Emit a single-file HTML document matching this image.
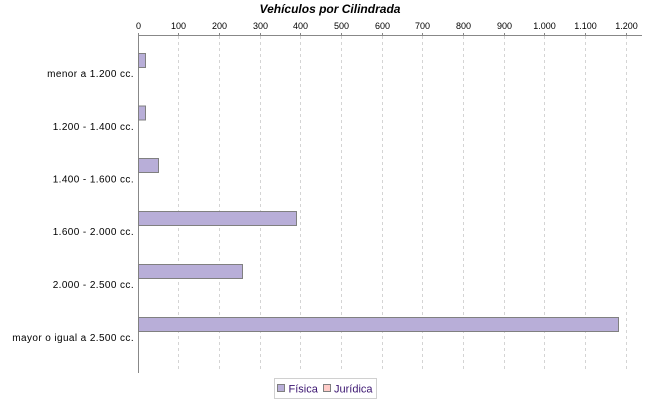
<!DOCTYPE html>
<html>
<head>
<meta charset="utf-8">
<style>
html,body{margin:0;padding:0;background:#fff;}
svg{display:block;}
text{font-family:"Liberation Sans",sans-serif;}
</style>
</head>
<body>
<svg width="650" height="400" viewBox="0 0 650 400" xmlns="http://www.w3.org/2000/svg">
<rect x="0" y="0" width="650" height="400" fill="#fff"/>
<!-- title -->
<text x="330" y="13" text-anchor="middle" font-size="12" font-weight="bold" font-style="italic" fill="#000">Vehículos por Cilindrada</text>
<!-- gridlines -->
<g stroke="#d4d4d4" stroke-width="1" stroke-dasharray="3,3">
<line x1="178.5" y1="36" x2="178.5" y2="372"/>
<line x1="219.5" y1="36" x2="219.5" y2="372"/>
<line x1="260.5" y1="36" x2="260.5" y2="372"/>
<line x1="300.5" y1="36" x2="300.5" y2="372"/>
<line x1="341.5" y1="36" x2="341.5" y2="372"/>
<line x1="382.5" y1="36" x2="382.5" y2="372"/>
<line x1="422.5" y1="36" x2="422.5" y2="372"/>
<line x1="463.5" y1="36" x2="463.5" y2="372"/>
<line x1="504.5" y1="36" x2="504.5" y2="372"/>
<line x1="544.5" y1="36" x2="544.5" y2="372"/>
<line x1="585.5" y1="36" x2="585.5" y2="372"/>
<line x1="626.5" y1="36" x2="626.5" y2="372"/>
</g>
<!-- axes -->
<line x1="138" y1="35.5" x2="642" y2="35.5" stroke="#888" stroke-width="1"/>
<line x1="138.5" y1="35" x2="138.5" y2="373" stroke="#888" stroke-width="1"/>
<g stroke="#888" stroke-width="1">
<line x1="138.5" y1="33" x2="138.5" y2="36"/>
<line x1="178.5" y1="33" x2="178.5" y2="36"/>
<line x1="219.5" y1="33" x2="219.5" y2="36"/>
<line x1="260.5" y1="33" x2="260.5" y2="36"/>
<line x1="300.5" y1="33" x2="300.5" y2="36"/>
<line x1="341.5" y1="33" x2="341.5" y2="36"/>
<line x1="382.5" y1="33" x2="382.5" y2="36"/>
<line x1="422.5" y1="33" x2="422.5" y2="36"/>
<line x1="463.5" y1="33" x2="463.5" y2="36"/>
<line x1="504.5" y1="33" x2="504.5" y2="36"/>
<line x1="544.5" y1="33" x2="544.5" y2="36"/>
<line x1="585.5" y1="33" x2="585.5" y2="36"/>
<line x1="626.5" y1="33" x2="626.5" y2="36"/>
</g>
<!-- tick labels -->
<g font-size="9" fill="#000" text-anchor="middle">
<text x="138.5" y="29">0</text>
<text x="178.5" y="29">100</text>
<text x="219.5" y="29">200</text>
<text x="260.5" y="29">300</text>
<text x="300.5" y="29">400</text>
<text x="341.5" y="29">500</text>
<text x="382.5" y="29">600</text>
<text x="422.5" y="29">700</text>
<text x="463.5" y="29">800</text>
<text x="504.5" y="29">900</text>
<text x="544.5" y="29">1.000</text>
<text x="585.5" y="29">1.100</text>
<text x="626.5" y="29">1.200</text>
</g>
<!-- category labels -->
<g font-size="10" fill="#000" text-anchor="end" letter-spacing="0.4">
<text x="134" y="77">menor a 1.200 cc.</text>
<text x="134" y="130">1.200 - 1.400 cc.</text>
<text x="134" y="182.5">1.400 - 1.600 cc.</text>
<text x="134" y="235">1.600 - 2.000 cc.</text>
<text x="134" y="288">2.000 - 2.500 cc.</text>
<text x="134" y="341">mayor o igual a 2.500 cc.</text>
</g>
<!-- bars -->
<g fill="#b8aed8" stroke="#808080" stroke-width="1">
<rect x="138.5" y="53.5" width="7" height="14"/>
<rect x="138.5" y="106" width="7" height="14"/>
<rect x="138.5" y="158.5" width="20" height="14"/>
<rect x="138.5" y="211.5" width="158" height="14"/>
<rect x="138.5" y="264.5" width="104" height="14"/>
<rect x="138.5" y="317.5" width="480" height="14"/>
</g>
<!-- legend -->
<rect x="274.5" y="378.5" width="102" height="20" fill="#fff" stroke="#d0d0d0" stroke-width="1"/>
<rect x="277.5" y="384.5" width="7" height="7" fill="#b8aed8" stroke="#808080" stroke-width="1"/>
<text x="288.5" y="392.5" font-size="11" fill="#3a1470">Física</text>
<rect x="323.5" y="384.5" width="7" height="7" fill="#ffccc8" stroke="#808080" stroke-width="1"/>
<text x="334" y="392.5" font-size="11" fill="#3a1470">Jurídica</text>
</svg>
</body>
</html>
